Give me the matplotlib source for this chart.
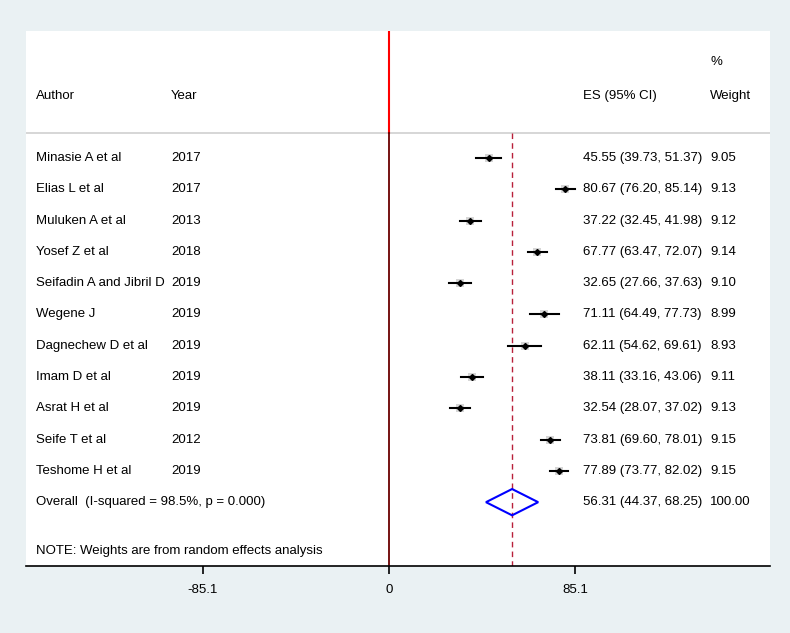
import matplotlib.pyplot as plt
from matplotlib.patches import Polygon

authors = ['Minasie A et al', 'Elias L et al', 'Muluken A et al', 'Yosef Z et al',
           'Seifadin A and Jibril D', 'Wegene J', 'Dagnechew D et al', 'Imam D et al',
           'Asrat H et al', 'Seife T et al', 'Teshome H et al']
years = ['2017', '2017', '2013', '2018', '2019', '2019', '2019', '2019', '2019', '2012', '2019']
es = [45.55, 80.67, 37.22, 67.77, 32.65, 71.11, 62.11, 38.11, 32.54, 73.81, 77.89]
lo = [39.73, 76.20, 32.45, 63.47, 27.66, 64.49, 54.62, 33.16, 28.07, 69.60, 73.77]
hi = [51.37, 85.14, 41.98, 72.07, 37.63, 77.73, 69.61, 43.06, 37.02, 78.01, 82.02]
weights = ['9.05', '9.13', '9.12', '9.14', '9.10', '8.99', '8.93', '9.11', '9.13', '9.15', '9.15']
overall = (56.31, 44.37, 68.25)
overall_label = 'Overall  (I-squared = 98.5%, p = 0.000)'
ticks = [-85.1, 0, 85.1]

plt.rcParams['font.family'] = ['Liberation Sans', 'DejaVu Sans']
fs = 9.5
bg = '#eaf1f3'

fig = plt.figure(figsize=(7.9, 6.33), dpi=100, facecolor=bg)
W, H = 790, 633
ax = fig.add_axes([26 / W, 1 - 566 / H, 744 / W, 535 / H])
ax.set_facecolor('white')

scale = 186 / 85.1
ax.set_xlim(-363 / scale, 381 / scale)
ax.set_ylim(13.04, -4.06)

x_author, x_year, x_es, x_wt = -161.5, -99.7, 88.8, 146.9

# header
ax.text(x_author, -1.98, 'Author', va='center', fontsize=fs)
ax.text(x_year, -1.98, 'Year', va='center', fontsize=fs)
ax.text(x_es, -1.98, 'ES (95% CI)', va='center', fontsize=fs)
ax.text(x_wt, -3.07, '%', va='center', fontsize=fs)
ax.text(x_wt, -1.98, 'Weight', va='center', fontsize=fs)
ax.axhline(-0.8, color='#cfcfcf', lw=1.2)

# null line
ax.plot([0, 0], [-4.06, -0.8], color='red', lw=1.5)
ax.plot([0, 0], [-0.8, 13.04], color='#6a0000', lw=1.3)

# overall dashed line
ax.plot([overall[0]] * 2, [-0.8, 13.04], color='#b8203a', lw=1.0, ls=(0, (4, 3)))

for i in range(len(authors)):
    ax.text(x_author, i, authors[i], va='center', fontsize=fs)
    ax.text(x_year, i, years[i], va='center', fontsize=fs)
    ax.text(x_es, i, f'{es[i]:.2f} ({lo[i]:.2f}, {hi[i]:.2f})', va='center', fontsize=fs)
    ax.text(x_wt, i, weights[i], va='center', fontsize=fs)
    ax.plot([lo[i], hi[i]], [i, i], color='black', lw=1.5, zorder=3)
    ax.plot(es[i], i, marker='s', ms=6, color='#d6d6d6', mew=0, zorder=2)
    ax.plot(es[i], i, marker='D', ms=3, color='black', zorder=4)

yo = len(authors)
ax.text(x_author, yo, overall_label, va='center', fontsize=fs)
ax.text(x_es, yo, f'{overall[0]:.2f} ({overall[1]:.2f}, {overall[2]:.2f})', va='center', fontsize=fs)
ax.text(x_wt, yo, '100.00', va='center', fontsize=fs)
dia = Polygon([(overall[1], yo), (overall[0], yo - 0.42), (overall[2], yo), (overall[0], yo + 0.42)],
              closed=True, fill=False, edgecolor='#0000ff', lw=1.5, zorder=5)
ax.add_patch(dia)

ax.text(x_author, 12.55, 'NOTE: Weights are from random effects analysis', va='center', fontsize=fs)

for s in ['top', 'left', 'right']:
    ax.spines[s].set_visible(False)
ax.spines['bottom'].set_linewidth(1.2)
ax.set_yticks([])
ax.set_xticks(ticks)
ax.set_xticklabels(['-85.1', '0', '85.1'], fontsize=fs)
ax.tick_params(axis='x', length=6, width=1.2, pad=7)

fig.savefig('out.png', dpi=100, facecolor=bg)
